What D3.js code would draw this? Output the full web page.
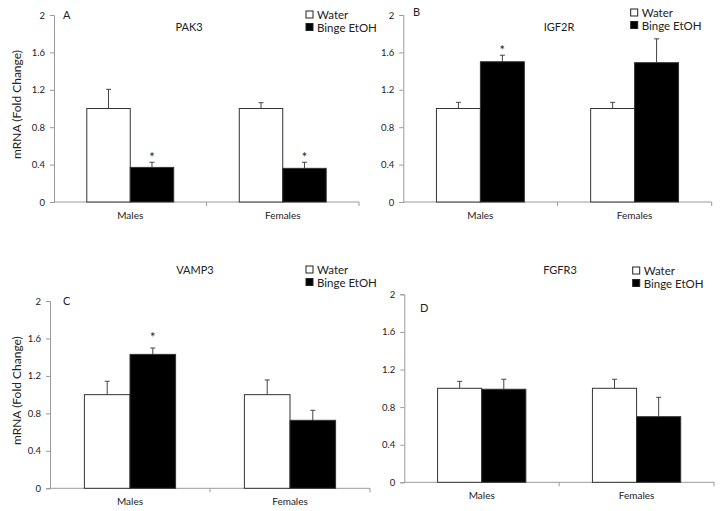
<!DOCTYPE html>
<html><head><meta charset="utf-8">
<script src="https://cdn.jsdelivr.net/npm/d3@7"></script>
<style>
html,body{margin:0;padding:0;background:#fff;}
text{font-family:Lato,"Noto Sans",sans-serif;fill:#222;}
</style></head>
<body><svg id="c" width="721" height="511"></svg>
<script>
// ---- data ----
const categories = ["Males", "Females"];
const seriesNames = ["Water", "Binge EtOH"];
const genes = ["PAK3", "IGF2R", "VAMP3", "FGFR3"];
const panelLetters = ["A", "B", "C", "D"];
const yTicks = [0, 0.4, 0.8, 1.2, 1.6, 2];
const waterValues = [[1.00, 1.00], [1.00, 1.00], [1.00, 1.00], [1.00, 1.00]];
const waterErrors = [[0.205, 0.062], [0.066, 0.066], [0.143, 0.157], [0.074, 0.096]];
const bingeValues = [[0.37, 0.36], [1.50, 1.49], [1.43, 0.726], [0.99, 0.698]];
const bingeErrors = [[0.055, 0.065], [0.07, 0.255], [0.068, 0.107], [0.106, 0.206]];
const bingeSignificant = [[true, true], [true, false], [true, false], [false, false]];

// ---- layout (positions only) ----
const layout = [
  {x0:54, x1:359, yTop:15, yBot:202, title:[189,31], letter:[63,19], legend:[306,15], yLabel:true, starGap:4},
  {x0:403.3, x1:711.7, yTop:15, yBot:202, title:[559,31], letter:[413,16], legend:[630.7,13], yLabel:false, starGap:4},
  {x0:50, x1:370, yTop:301, yBot:488.3, title:[195,274], letter:[63,305], legend:[306,270], yLabel:true, starGap:10},
  {x0:404.3, x1:714, yTop:294.3, yBot:482.3, title:[560,274], letter:[420,312], legend:[632.7,271], yLabel:false, starGap:4}
];

const svg = d3.select("#c");
const axisColor = "#9a9a9a";
const barStroke = "#333";
const fills = ["#ffffff", "#000000"];

genes.forEach((gene, i) => {
  const L = layout[i];
  const g = svg.append("g");
  const y = d3.scaleLinear().domain([0, 2]).range([L.yBot, L.yTop]);
  const x = d3.scaleBand().domain(categories).range([L.x0, L.x1]).padding(0);
  const groupW = x.bandwidth() * 0.57;
  const xs = d3.scaleBand().domain(seriesNames).range([0, groupW]).padding(0);

  // y axis
  const yAxis = d3.axisLeft(y).tickValues(yTicks).tickFormat(d3.format("")).tickSize(4).tickPadding(5);
  const ya = g.append("g").attr("transform", `translate(${L.x0},0)`).call(yAxis);
  ya.select(".domain").attr("stroke", axisColor);
  ya.selectAll(".tick line").attr("stroke", axisColor);
  ya.selectAll(".tick text").attr("font-size", 9.5).style("fill", "#222");

  // x axis
  const xa = g.append("g").attr("transform", `translate(0,${L.yBot})`);
  xa.append("line").attr("x1", L.x0).attr("x2", L.x1).attr("stroke", axisColor);
  const bounds = categories.map(c => x(c)).concat([L.x1]);
  xa.selectAll(".tk").data(bounds.slice(1)).join("line")
    .attr("x1", d => d).attr("x2", d => d).attr("y1", 0).attr("y2", 4).attr("stroke", axisColor);
  xa.selectAll(".lbl").data(categories).join("text")
    .attr("x", d => x(d) + x.bandwidth() / 2).attr("y", 17)
    .attr("text-anchor", "middle").attr("font-size", 10).text(d => d);

  // bars
  const rows = [];
  categories.forEach((c, ci) => {
    rows.push({cat:c, s:0, v:waterValues[i][ci], e:waterErrors[i][ci], sig:false});
    rows.push({cat:c, s:1, v:bingeValues[i][ci], e:bingeErrors[i][ci], sig:bingeSignificant[i][ci]});
  });
  const bx = d => x(d.cat) + (x.bandwidth() - groupW) / 2 + xs(seriesNames[d.s]);
  const cx = d => bx(d) + xs.bandwidth() / 2;

  g.selectAll(".err").data(rows).join("line")
    .attr("x1", cx).attr("x2", cx).attr("y1", d => y(d.v)).attr("y2", d => y(d.v + d.e))
    .attr("stroke", "#444").attr("stroke-width", 1);
  g.selectAll(".cap").data(rows).join("line")
    .attr("x1", d => cx(d) - 2.5).attr("x2", d => cx(d) + 2.5)
    .attr("y1", d => y(d.v + d.e)).attr("y2", d => y(d.v + d.e))
    .attr("stroke", "#444").attr("stroke-width", 1);

  g.selectAll(".bar").data(rows).join("rect")
    .attr("x", bx).attr("y", d => y(d.v))
    .attr("width", xs.bandwidth()).attr("height", d => y(0) - y(d.v))
    .attr("fill", d => fills[d.s]).attr("stroke", barStroke).attr("stroke-width", 1);

  g.selectAll(".star").data(rows.filter(d => d.sig)).join("text")
    .attr("x", cx).attr("y", d => y(d.v + d.e) - L.starGap + 4)
    .attr("text-anchor", "middle").attr("font-size", 13).text("*");

  // title & letter
  g.append("text").attr("x", L.title[0]).attr("y", L.title[1]).attr("text-anchor", "middle")
    .attr("font-size", 11).text(gene);
  g.append("text").attr("x", L.letter[0]).attr("y", L.letter[1])
    .attr("font-size", 11).text(panelLetters[i]);

  // legend
  seriesNames.forEach((s, si) => {
    const ly = L.legend[1] + si * 12.5;
    g.append("rect").attr("x", L.legend[0]).attr("y", ly - 4).attr("width", 7).attr("height", 7)
      .attr("fill", fills[si]).attr("stroke", "#222").attr("stroke-width", 1);
    g.append("text").attr("x", L.legend[0] + 11).attr("y", ly + 4)
      .attr("font-size", 11.5).text(s);
  });

  if (L.yLabel) {
    const cy = (L.yTop + L.yBot) / 2 - 4;
    g.append("text").attr("transform", `translate(21,${cy}) rotate(-90)`)
      .attr("text-anchor", "middle").attr("font-size", 12).text("mRNA (Fold Change)");
  }
});
</script>
</body></html>
